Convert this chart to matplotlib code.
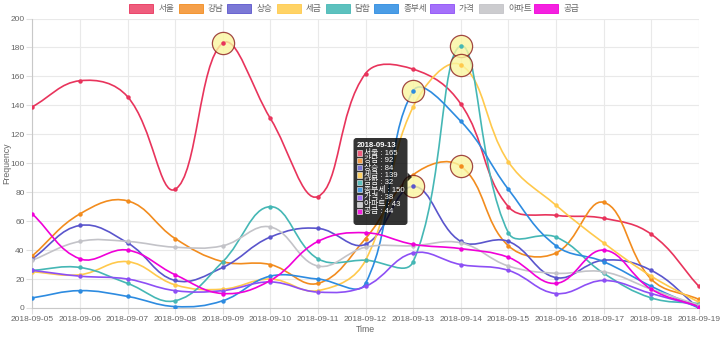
import numpy as np
import matplotlib
matplotlib.use('Agg')
import matplotlib.pyplot as plt
from matplotlib.path import Path
from matplotlib.patches import PathPatch, Rectangle, FancyBboxPatch, Polygon
import matplotlib.transforms as mtransforms

plt.rcParams['font.family'] = ['Liberation Sans', 'Noto Sans CJK KR', 'DejaVu Sans']

# ---------------- data ----------------
dates = ['2018-09-05', '2018-09-06', '2018-09-07', '2018-09-08', '2018-09-09',
         '2018-09-10', '2018-09-11', '2018-09-12', '2018-09-13', '2018-09-14',
         '2018-09-15', '2018-09-16', '2018-09-17', '2018-09-18', '2018-09-19']
names = ['서울', '강남', '상승', '세금', '담합', '종부세', '가격', '아파트', '공급']

seoul    = [139, 157, 146, 82, 183, 131, 77, 162, 165, 141, 70, 64, 62, 51, 15]
gangnam  = [36, 65, 74, 48, 32, 30, 17, 48, 92, 98, 43, 38, 73, 20, 6]
sangseung = [34, 57, 45, 19, 28, 49, 55, 44, 84, 46, 46, 21, 33, 26, 0]
segeum   = [25, 23, 32, 16, 13, 20, 12, 33, 139, 168, 101, 71, 45, 22, 4]
damhap   = [26, 28, 17, 5, 32, 70, 34, 33, 32, 181, 52, 49, 24, 7, 3]
jongbuse = [7, 12, 8, 1, 5, 22, 20, 17, 150, 129, 82, 43, 32, 15, 0]
gagyeok  = [26, 22, 20, 12, 12, 18, 11, 15, 38, 30, 26, 10, 19, 10, 1]
apt      = [33, 46, 46, 42, 43, 56, 29, 42, 43, 45, 29, 24, 25, 13, 2]
gonggeup = [65, 34, 40, 23, 10, 19, 46, 52, 44, 41, 35, 17, 40, 13, 1]

series = [seoul, gangnam, sangseung, segeum, damhap, jongbuse, gagyeok, apt, gonggeup]
tooltip_index = 8
# highlighted (hovered) points: (series index, date index)
highlights = [(0, 4), (5, 8), (2, 8), (4, 9), (3, 9), (1, 9)]

# ---------------- styles ----------------
line_colors = ['#e8345c', '#f28c1e', '#5a55cc', '#ffc94c', '#45b7b5',
               '#2d8be0', '#8d4ff5', '#c3c3c8', '#f000d8']
box_colors = ['#ef5d7d', '#f5a04a', '#7b78d6', '#ffd365', '#5cc1be',
              '#4b9de6', '#a470fb', '#cccccf', '#f520e0']

W, H = 720, 338
fig = plt.figure(figsize=(W / 100, H / 100), dpi=100)
left_px, right_px, top_px, bottom_px = 32.3, 698.8, 18.5, 308.0
aw, ah = right_px - left_px, bottom_px - top_px
ax = fig.add_axes([left_px / W, (H - bottom_px) / H, aw / W, ah / H])

x = np.arange(len(dates))
ax.set_xlim(0, len(dates) - 1)
ax.set_ylim(0, 200)

# grid / axes styling
ax.set_yticks(np.arange(0, 201, 20))
ax.set_xticks(x)
ax.set_xticklabels(dates)
ax.grid(True, color='#e9e9e9', linewidth=0.8)
ax.set_axisbelow(True)
for s in ['top', 'right']:
    ax.spines[s].set_visible(False)
for s in ['left', 'bottom']:
    ax.spines[s].set_color('#c8c8c8')
    ax.spines[s].set_linewidth(0.8)
ax.tick_params(axis='both', length=4, color='#e0e0e0', labelcolor='#666666',
               labelsize=6.0, pad=1.5)
ax.set_ylabel('Frequency', fontsize=6.3, color='#666666', va='center')
ax.set_xlabel('Time', fontsize=6.3, color='#666666', va='center')
ax.yaxis.set_label_coords((7.0 - left_px) / aw, 0.5)
ax.xaxis.set_label_coords(0.5, (bottom_px - 330.0) / ah)


def spline_path(xs, ys, t=0.4):
    pts = ax.transData.transform(np.column_stack([xs, ys]).astype(float))
    n = len(pts)
    prev_cp, next_cp = [], []
    x0, y0, x1, y1 = ax.bbox.x0, ax.bbox.y0, ax.bbox.x1, ax.bbox.y1
    for i in range(n):
        p = pts[i]
        a = pts[i - 1] if i > 0 else p
        b = pts[i + 1] if i < n - 1 else p
        d01 = np.hypot(*(p - a))
        d12 = np.hypot(*(b - p))
        s = d01 + d12
        s01 = d01 / s if s else 0
        s12 = d12 / s if s else 0
        pc = p - t * s01 * (b - a)
        nc = p + t * s12 * (b - a)
        pc = np.array([min(max(pc[0], x0), x1), min(max(pc[1], y0), y1)])
        nc = np.array([min(max(nc[0], x0), x1), min(max(nc[1], y0), y1)])
        prev_cp.append(pc)
        next_cp.append(nc)
    verts = [pts[0]]
    codes = [Path.MOVETO]
    for i in range(n - 1):
        verts += [next_cp[i], prev_cp[i + 1], pts[i + 1]]
        codes += [Path.CURVE4] * 3
    verts = ax.transData.inverted().transform(np.array(verts))
    return Path(verts, codes)


for vals, lc in zip(series, line_colors):
    patch = PathPatch(spline_path(x, vals), facecolor='none', edgecolor=lc,
                      linewidth=1.2, zorder=3)
    ax.add_patch(patch)
    ax.plot(x, vals, 'o', color=lc, markersize=3.2, markeredgewidth=0, zorder=4)

for si, di in highlights:
    ax.plot(x[di], series[si][di], 'o', markersize=16, markerfacecolor='#fbf6a0',
            markeredgecolor='#8b1c1c', markeredgewidth=0.9, alpha=0.8, zorder=5)
    ax.plot(x[di], series[si][di], 'o', color=line_colors[si], markersize=3.2,
            markeredgewidth=0, zorder=6)

# ---------------- pixel transform (top-left origin) ----------------
pix = mtransforms.Affine2D().scale(1, -1).translate(0, H) + \
    mtransforms.Affine2D().scale(fig.dpi / 100.0)

# legend
legend_left = [129.3, 179.0, 227.3, 276.7, 325.7, 374.3, 430.0, 479.3, 534.3]
for name, bc, lc, lx in zip(names, box_colors, line_colors, legend_left):
    fig.add_artist(Rectangle((lx, 4.3), 24, 8.4, transform=pix,
                             facecolor=bc, edgecolor=lc, linewidth=0.6))
    fig.text(lx + 29, 8.7, name, transform=pix, fontsize=6.2, color='#666666',
             va='center', ha='left')

# tooltip
tx0, ty0, tx1, ty1 = 353.5, 138.0, 407.5, 225.0
fig.add_artist(FancyBboxPatch((tx0, ty0), tx1 - tx0, ty1 - ty0,
                              boxstyle='round,pad=0,rounding_size=3',
                              transform=pix, facecolor=(0, 0, 0, 0.8),
                              edgecolor='none', zorder=10))
fig.add_artist(Polygon([[tx1, 172.5], [tx1 + 4.5, 177.0], [tx1, 181.5]], closed=True,
                       transform=pix, facecolor=(0, 0, 0, 0.8), edgecolor='none',
                       zorder=10))
fig.text(357, 145.5, dates[tooltip_index], transform=pix, fontsize=5.6,
         color='white', fontweight='bold', va='center', ha='left', zorder=11)
for k, (name, vals, bc) in enumerate(zip(names, series, box_colors)):
    yy = 153.0 + 7.35 * k
    fig.add_artist(Rectangle((356.5, yy - 2.6), 5.2, 5.2, transform=pix,
                             facecolor=bc, edgecolor='white', linewidth=0.4,
                             zorder=11))
    fig.text(364, yy, f'{name} : {vals[tooltip_index]}', transform=pix,
             fontsize=5.6, color='white', va='center', ha='left', zorder=11)

fig.savefig('out.png', dpi=100)
